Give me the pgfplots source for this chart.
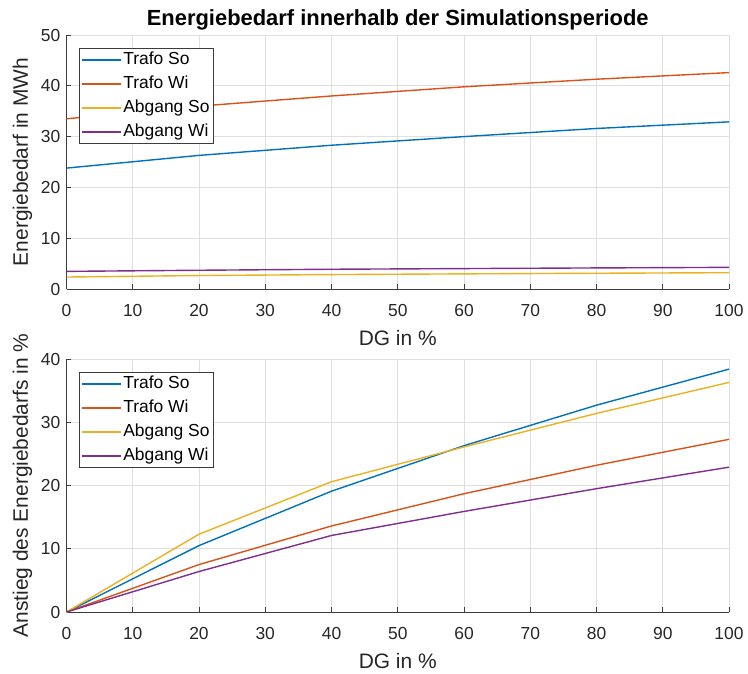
\documentclass[border=0pt]{standalone}
\usepackage{fontspec}
\setmainfont{Liberation Sans}
\usepackage{pgfplots}
\pgfplotsset{compat=1.18}

\definecolor{mblue}{RGB}{0,114,189}
\definecolor{mred}{RGB}{217,83,25}
\definecolor{myellow}{RGB}{237,177,32}
\definecolor{mpurple}{RGB}{126,47,142}
\definecolor{gridgray}{RGB}{223,223,223}
\definecolor{axgray}{RGB}{60,60,60}

\pgfplotsset{
  matax/.style={
    scale only axis,
    width=662.5bp,
    xmin=0, xmax=100,
    xtick={0,10,...,100},
    axis x line=bottom, axis y line=left,
    axis line style={-, axgray, line width=0.8bp},
    tick align=inside,
    major tick length=5bp,
    tick style={axgray, line width=0.8bp},
    grid=major,
    grid style={gridgray, line width=0.7bp},
    /pgf/number format/assume math mode=true,
    tick label style={font=\fontsize{17.5}{20}\selectfont, text=black!85},
    xticklabel style={anchor=base, yshift=-27bp},
    yticklabel style={anchor=east, xshift=-2.7bp},
    xlabel={DG in \%},
    xlabel style={at={(axis description cs:0.5,0)}, anchor=base, yshift=-56bp,
      font=\fontsize{21}{24}\selectfont, text=black!85},
    ylabel style={at={(axis description cs:0,0.5)}, anchor=base, yshift=38.5bp,
      font=\fontsize{21}{24}\selectfont, text=black!85},
    legend cell align=left,
    legend style={
      at={(0,1)}, anchor=north west, xshift=12.5bp, yshift=-13bp,
      draw=axgray, line width=0.8bp,
      font=\fontsize{17.5}{20}\selectfont,
      inner xsep=2bp, inner ysep=2bp,
      row sep=5bp,
      nodes={inner sep=1.5bp, text height=12.5bp, text depth=3.5bp},
    },
    legend image code/.code={\draw[#1, line width=1.4bp] (0bp,0bp) -- (39bp,0bp);},
    every axis plot/.append style={line width=1.4bp},
  }
}

\begin{document}
\begin{tikzpicture}
  \useasboundingbox (0,0) rectangle (748bp,-674bp);

  % --- oben: Energiebedarf absolut ---
  \begin{axis}[
    matax,
    at={(66.5bp,-289bp)}, anchor=south west,
    height=254bp,
    ymin=0, ymax=50,
    ytick={0,10,...,50},
    ylabel={Energiebedarf in MWh},
    title={Energiebedarf innerhalb der Simulationsperiode},
    title style={at={(axis description cs:0.5,1)}, anchor=base, yshift=3.5bp,
      font=\fontsize{22}{25}\selectfont\bfseries},
  ]
    \addplot[mblue] coordinates {(0,23.8) (20,26.3) (40,28.3) (60,30.0) (80,31.6) (100,32.9)};
    \addlegendentry{Trafo So}
    \addplot[mred] coordinates {(0,33.5) (20,36.0) (40,38.0) (60,39.8) (80,41.3) (100,42.6)};
    \addlegendentry{Trafo Wi}
    \addplot[myellow] coordinates {(0,2.36) (20,2.65) (40,2.84) (60,2.98) (80,3.10) (100,3.21)};
    \addlegendentry{Abgang So}
    \addplot[mpurple] coordinates {(0,3.47) (20,3.69) (40,3.89) (60,4.02) (80,4.15) (100,4.26)};
    \addlegendentry{Abgang Wi}
  \end{axis}

  % --- unten: Anstieg in Prozent ---
  \begin{axis}[
    matax,
    at={(66.5bp,-612bp)}, anchor=south west,
    height=253bp,
    ymin=0, ymax=40,
    ytick={0,10,...,40},
    ylabel={Anstieg des Energiebedarfs in \%},
  ]
    \addplot[mblue] coordinates {(0,0) (20,10.5) (40,19.1) (60,26.3) (80,32.7) (100,38.4)};
    \addlegendentry{Trafo So}
    \addplot[mred] coordinates {(0,0) (20,7.5) (40,13.6) (60,18.7) (80,23.2) (100,27.3)};
    \addlegendentry{Trafo Wi}
    \addplot[myellow] coordinates {(0,0) (20,12.3) (40,20.6) (60,26.1) (80,31.4) (100,36.3)};
    \addlegendentry{Abgang So}
    \addplot[mpurple] coordinates {(0,0) (20,6.4) (40,12.1) (60,15.9) (80,19.5) (100,22.9)};
    \addlegendentry{Abgang Wi}
  \end{axis}
\end{tikzpicture}
\end{document}
